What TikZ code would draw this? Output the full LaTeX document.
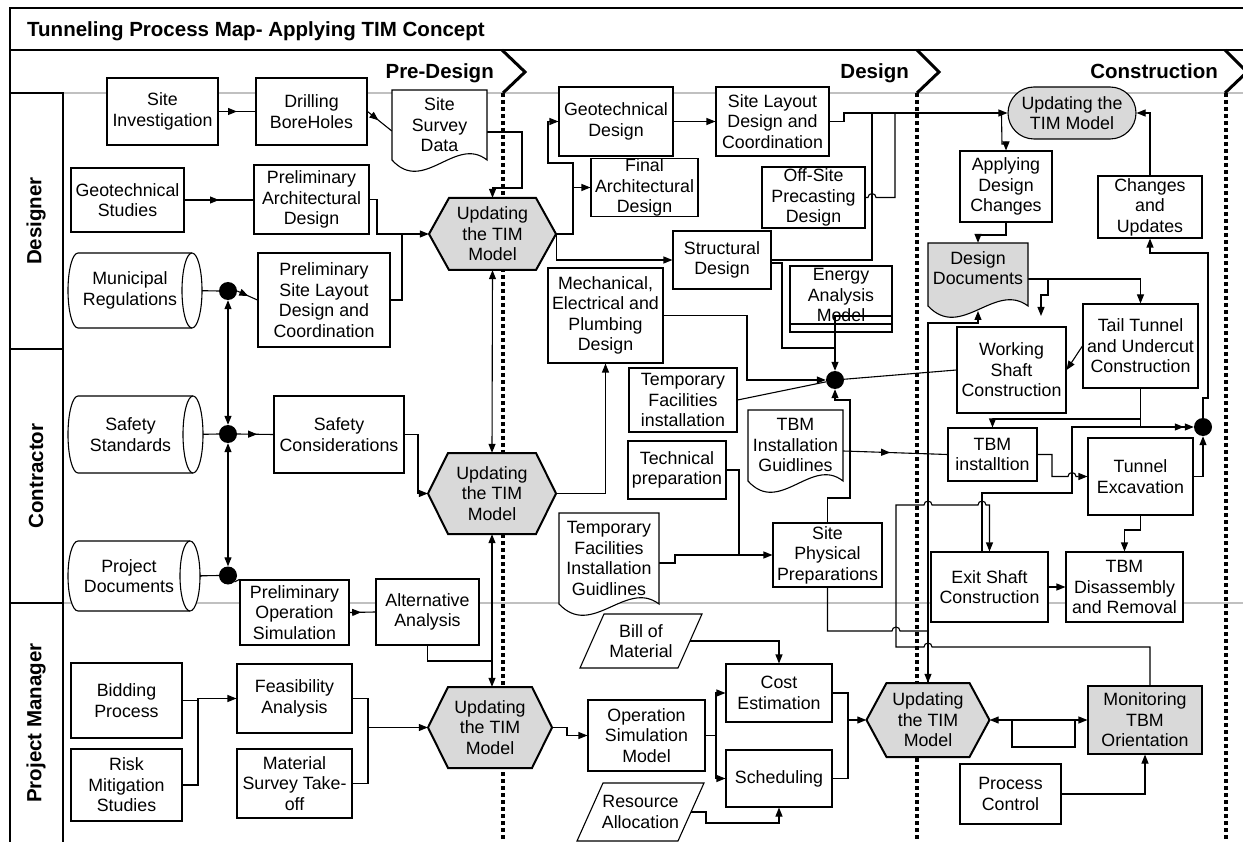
\documentclass[tikz,border=0pt]{standalone}
\usepackage{fontspec}
\setmainfont{Liberation Sans}
\usetikzlibrary{arrows.meta,decorations.markings}
\pgfdeclarelayer{bg}\pgfdeclarelayer{conn}\pgfsetlayers{bg,conn,main}
\definecolor{hexgray}{HTML}{D9D9D9}
\definecolor{lanegray}{HTML}{C0C0C0}
\tikzset{
 txt/.style={inner sep=0pt, align=center, font=\fontsize{17.8}{20.5}\selectfont},
 bx/.style={txt, draw, fill=white, line width=1.1pt},
 shp/.style={draw, fill=white, line width=1.1pt},
 hexs/.style={draw, fill=hexgray, line width=2pt, line join=miter},
 con/.style={line width=1.1pt},
 arr/.style={con, -{Triangle[length=9pt,width=7pt]}},
 darr/.style={con, {Triangle[length=9pt,width=7pt]}-{Triangle[length=9pt,width=7pt]}},
 marr/.style={con, postaction={decorate}, decoration={markings, mark=at position #1 with {\arrow{Triangle[length=9pt,width=7pt]}}}},
 dot/.style={circle, fill=black, inner sep=0pt, minimum size=18pt},
 hd/.style={font=\fontsize{20.5}{24}\selectfont\bfseries, inner sep=0pt},
 phdot/.style={line width=3.4pt, dash pattern=on 4pt off 3pt},
 chev/.style={line width=3pt, line join=miter},
}
\newcommand\mkBox[7][]{%
 \pgfmathsetmacro\bxw{#5-#3}\pgfmathsetmacro\bxh{#6-#4}%
 \pgfmathsetmacro\bxx{(#3+#5)/2}\pgfmathsetmacro\bxy{(#4+#6)/2}%
 \node[bx,minimum width=\bxw pt,minimum height=\bxh pt,#1] (#2) at (\bxx,\bxy) {#7};}
\newcommand\mkDoc[8][]{%
 \pgfmathsetmacro\dca{#3+0.33*(#5-#3)}\pgfmathsetmacro\dcb{#3+0.67*(#5-#3)}%
 \pgfmathsetmacro\dcu{#7-25}\pgfmathsetmacro\dcd{#7+35}%
 \draw[shp,#1] (#3,#4) -- (#5,#4) -- (#5,#7) .. controls (\dcb,\dcu) and (\dca,\dcd) .. (#3,#7) -- cycle;
 \pgfmathsetmacro\bxw{#5-#3}\pgfmathsetmacro\bxh{#6-#4}%
 \pgfmathsetmacro\bxx{(#3+#5)/2}\pgfmathsetmacro\bxy{(#4+#6)/2}%
 \node[txt,minimum width=\bxw pt,minimum height=\bxh pt] (#2) at (\bxx,\bxy) {#8};}
\newcommand\mkSto[6]{%
 \pgfmathsetmacro\sra{#2+10}\pgfmathsetmacro\srb{#4-10}\pgfmathsetmacro\sry{(#5-#3)/2}\pgfmathsetmacro\srm{(#3+#5)/2}%
 \draw[shp] (\sra,#3) -- (\srb,#3) arc[start angle=90,end angle=-90,x radius=10pt,y radius=\sry pt] -- (\sra,#5) arc[start angle=270,end angle=90,x radius=10pt,y radius=\sry pt] -- cycle;
 \draw[shp] (\srb,#3) arc[start angle=90,end angle=270,x radius=10pt,y radius=\sry pt];
 \pgfmathsetmacro\bxw{\srb-#2}\pgfmathsetmacro\bxh{#5-#3}\pgfmathsetmacro\bxx{(#2+\srb)/2}%
 \node[txt,minimum width=\bxw pt,minimum height=\bxh pt] (#1) at (\bxx,\srm) {#6};}
\newcommand\mkPar[7]{%
 \pgfmathsetmacro\pgA{#2+#6}\pgfmathsetmacro\pgB{#4-#6}%
 \draw[shp] (\pgA,#3) -- (#4,#3) -- (\pgB,#5) -- (#2,#5) -- cycle;
 \pgfmathsetmacro\bxw{#4-#2}\pgfmathsetmacro\bxh{#5-#3}%
 \pgfmathsetmacro\bxx{(#2+#4)/2}\pgfmathsetmacro\bxy{(#3+#5)/2}%
 \node[txt,minimum width=\bxw pt,minimum height=\bxh pt] (#1) at (\bxx,\bxy) {#7};}
\newcommand\mkHex[6]{%
 \pgfmathsetmacro\hxl{#2-#4/2}\pgfmathsetmacro\hxr{#2+#4/2}%
 \pgfmathsetmacro\hxt{#3-#5/2}\pgfmathsetmacro\hxb{#3+#5/2}%
 \pgfmathsetmacro\hxa{\hxl+20}\pgfmathsetmacro\hxc{\hxr-20}%
 \draw[hexs] (\hxl,#3) -- (\hxa,\hxt) -- (\hxc,\hxt) -- (\hxr,#3) -- (\hxc,\hxb) -- (\hxa,\hxb) -- cycle;
 \node[txt,minimum width=#4 pt,minimum height=#5 pt] (#1) at (#2,#3) {#6};}
\begin{document}
\begin{tikzpicture}[x=1pt,y=-1pt]
\useasboundingbox (0,0) rectangle (1243,842);
\begin{pgfonlayer}{bg}
 \draw[line width=1.3pt] (10,842) -- (10,8) -- (1250,8);
 \draw[line width=1.3pt] (10,50) -- (1250,50);
 \draw[lanegray, line width=1.5pt] (63,93) -- (1250,93);
 \draw[lanegray, line width=1.5pt] (63,603) -- (1250,603);
 \draw[line width=1.3pt] (10,93) -- (63,93) -- (63,842);
 \draw[line width=1.3pt] (10,349) -- (63,349);
 \draw[line width=1.3pt] (10,603) -- (63,603);
 \draw[phdot] (503,93) -- (503,842);
 \draw[phdot] (917,93) -- (917,842);
 \draw[phdot] (1226,93) -- (1226,842);
 \draw[chev] (502,50) -- (525,72) -- (503,93);
 \draw[chev] (917,50) -- (939,72) -- (917,93);
 \draw[chev] (1225,50) -- (1247,72) -- (1225,93);
\end{pgfonlayer}
% headings
\node[hd, anchor=base west] (title) at (27,37) {Tunneling Process Map- Applying TIM Concept};
\node[hd, anchor=base east] (ph1) at (494,79) {Pre-Design};
\node[hd, anchor=base east] (ph2) at (909,79) {Design};
\node[hd, anchor=base east] (ph3) at (1218,79) {Construction};
\node[hd, rotate=90] (ln1) at (36,221) {Designer};
\node[hd, rotate=90] (ln2) at (36,476) {Contractor};
\node[hd, rotate=90] (ln3) at (36,723) {Project Manager};
% pre-design
\mkBox{si}{107}{78}{218}{145}{Site\\Investigation}
\mkBox{db}{256}{78}{367}{145}{Drilling\\BoreHoles}
\mkDoc{ssd}{392}{90}{487}{160}{160}{Site\\Survey\\Data}
\mkBox{gs}{71}{168}{184}{232}{Geotechnical\\Studies}
\mkBox{pad}{254}{165}{369}{234}{Preliminary\\Architectural\\Design}
\mkSto{mun}{68}{253}{202}{328}{Municipal\\Regulations}
\mkBox{psl}{258}{253}{390}{347}{Preliminary\\Site Layout\\Design and\\Coordination}
\mkSto{saf}{68}{396}{203}{473}{Safety\\Standards}
\mkBox{sc}{274}{396}{404}{473}{Safety\\Considerations}
\mkSto{prj}{68}{541}{200}{611}{Project\\Documents}
\mkBox{pos}{240}{580}{349}{645}{Preliminary\\Operation\\Simulation}
\mkBox{aa}{376}{579}{479}{645}{Alternative\\Analysis}
\mkBox{bp}{71}{663}{182}{738}{Bidding\\Process}
\mkBox{rms}{71}{749}{182}{821}{Risk\\Mitigation\\Studies}
\mkBox{fa}{237}{664}{352}{733}{Feasibility\\Analysis}
\mkBox{mst}{237}{749}{352}{818}{Material\\Survey Take-\\off}
\mkHex{h1}{492.5}{234}{127}{72}{Updating\\the TIM\\Model}
\mkHex{h2}{492}{493.5}{128}{81}{Updating\\the TIM\\Model}
\mkHex{h3}{490}{727.5}{124}{81}{Updating\\the TIM\\Model}
\mkHex{h4}{928}{720}{123}{74}{Updating\\the TIM\\Model}
% design
\mkBox{gd}{559}{87}{673}{156}{Geotechnical\\Design}
\mkBox{sld}{716}{87}{829}{156}{Site Layout\\Design and\\Coordination}
\mkBox{fad}{591}{160}{698}{215}{Final\\Architectural\\Design}
\mkBox{osp}{762}{167}{865}{228}{Off-Site\\Precasting\\Design}
\mkBox{sd}{673}{231}{771}{289}{Structural\\Design}
\mkBox{mep}{548}{268}{663}{363}{Mechanical,\\Electrical and\\Plumbing\\Design}
\mkBox{ea}{790}{266}{892}{324}{Energy\\Analysis\\Model}
\mkBox{tfi}{629}{368}{737}{432}{Temporary\\Facilities\\installation}
\mkBox{tp}{628}{441}{726}{499}{Technical\\preparation}
\mkDoc{tbg}{748}{410}{843}{480}{481}{TBM\\Installation\\Guidlines}
\mkDoc{tfg}{559}{513}{659}{604}{604}{Temporary\\Facilities\\Installation\\Guidlines}
\mkBox{spp}{773}{523}{882}{587}{Site\\Physical\\Preparations}
\mkPar{bom}{580}{614}{702}{668}{24}{Bill of\\Material}
\mkPar{ra}{577}{783}{704}{841}{26}{Resource\\Allocation}
\mkBox{osm}{588}{700}{705}{771}{Operation\\Simulation\\Model}
\mkBox{ce}{726}{664}{832}{722}{Cost\\Estimation}
\mkBox{sch}{726}{750}{832}{807}{Scheduling}
% construction
\node[bx, fill=hexgray, rounded corners=26pt, minimum width=128pt, minimum height=52pt] (st) at (1072,113) {Updating the\\TIM Model};
\mkBox{ads}{960}{151}{1052}{222}{Applying\\Design\\Changes}
\mkBox{cu}{1098}{176}{1202}{238}{Changes\\and\\Updates}
\mkDoc[fill=hexgray]{dd}{928}{243}{1028}{293}{306}{Design\\Documents}
\mkBox{wsc}{957}{327}{1066}{413}{Working\\Shaft\\Construction}
\mkBox{ttu}{1083}{304}{1198}{388}{Tail Tunnel\\and Undercut\\Construction}
\mkBox{tbi}{948}{428}{1037}{481}{TBM\\installtion}
\mkBox{te}{1088}{438}{1193}{515}{Tunnel\\Excavation}
\mkBox{esc}{931}{552}{1048}{622}{Exit Shaft\\Construction}
\mkBox{tbd}{1066}{552}{1183}{622}{TBM\\Disassembly\\and Removal}
\mkBox[fill=hexgray]{mon}{1088}{686}{1202}{754}{Monitoring\\TBM\\Orientation}
\mkBox{pc}{960}{764}{1061}{824}{Process\\Control}
% junctions
\node[dot] (d1) at (228,291) {};
\node[dot] (d2) at (228,434) {};
\node[dot] (d3) at (228,575.5) {};
\node[dot] (d4) at (1203,427) {};
\node[dot] (d5) at (835,380) {};
\coordinate (j3) at (368,727.5);
\coordinate (jfa) at (573,187.5);
\coordinate (jos) at (716,735.5);
\coordinate (jce) at (848,720);
\coordinate (jdd) at (1048,279);
\coordinate (wsct) at (1041,316);
\coordinate (ddb) at (978,311);
% energy extra lines
\draw[con] (892,316) -- (835,316) -- (835,348);
\draw[con] (790,324) -- (790,332) -- (892,332) -- (892,324);
\begin{pgfonlayer}{conn}
\draw[marr=0.5] (si.east) -- (db.west);
\draw[marr=0.45] (db.east) -- ([yshift=-6pt]ssd.west);
\draw[marr=0.5] (gs.east) -- (gs.east -| pad.west);
\draw[arr] (pad.east) -- (377,199.5) -- (377,234) -- (h1.west);
\draw[con] (psl.east) -- (402,300) -- (402,234);
\draw[arr] ([yshift=-7pt]ssd.east) -- (522,132) -- (522,188) -- (492.5,188) -- (h1.north);
\draw[marr=0.45] (mun.east) -- (d1.west);
\draw[marr=0.55] (d1.east) -- (psl.west);
\draw[marr=0.45] (saf.east) -- (d2.west);
\draw[marr=0.55] (d2.east) -- (sc.west);
\draw[marr=0.45] (prj.east) -- (d3.west);
\draw[con] (d3.south east) -- (pos.north west);
\draw[darr] (d1.south) -- (d2.north);
\draw[darr] (d2.south) -- (d3.north);
\draw[arr] (sc.east) -- (418,434.5) -- (418,493.5) -- (h2.west);
\draw[darr] (h1.south) -- (h2.north);
\draw[darr] (h2.south) -- (h2.south |- h3.north);
\draw[marr=0.45] (pos.east) -- (aa.west);
\draw[con] (aa.south) |- (492,661);
\draw[arr] (bp.east) -- (198,700.5) -- (198,698.5) -- (fa.west);
\draw[con] (rms.east) -- (198,785) -- (198,700.5);
\draw[con] (fa.east) -- (368,698.5) -- (368,783.5) -- (mst.east);
\draw[arr] (j3) -- (h3.west);
% design
\draw[arr] (h1.east) -- (573,234) -- (573,163) -- (548,163) -- (548,121.5) -- (gd.west);
\draw[arr] (jfa) -- (fad.west);
\draw[arr] (h1.east) |- (sd.west);
\draw[arr] (gd.east) -- (sld.west);
\draw[arr] (sld.east) -- (844,121.5) -- (844,113) -- (st.west);
\draw[con] (osp.east) -- (868,197.5) arc[start angle=180,end angle=0,radius=4pt] -- (895,197.5) -- (895,113);
\draw[con] (sd.east) -- (872,260) -- (872,113);
\draw[arr] ([yshift=-3pt]sd.east) -- (782,263) -- (782,348) -- (835,348) -- (d5.north);
\draw[arr] (h2.east) -| (mep.south);
\draw[arr] (mep.east) -- (747,315.5) -- (747,380) -- (d5.west);
\draw[con] (tfi.east) -- (d5);
\draw[arr] (spp.north) -- (827.5,498) -- (850,498) -- (850,400) -- (835,400) -- (d5.south);
\draw[con] (wsc.west) -- (d5);
\draw[marr=0.45] ([yshift=-6pt]tbg.east) -- (tbi.west);
\draw[arr] (tp.east) -- (739,470) -- (739,555) -- (spp.west);
\draw[con] ([yshift=-4.5pt]tfg.east) -- (675,563) -- (675,555) -- (739,555);
\draw[arr] (h3.east) -- (567,727.5) -- (567,735.5) -- (osm.west);
\draw[arr] (osm.east) -- (716,735.5) -- (716,693) -- (ce.west);
\draw[arr] (jos) -- (716,778.5) -- (sch.west);
\draw[arr] ([xshift=-12pt]bom.east) -- (779,641) -- (ce.north);
\draw[arr] ([xshift=-13pt]ra.east) -- (706,812) -- (706,823) -- (779,823) -- (sch.south);
\draw[con] (ce.east) -- (848,693) -- (848,778.5) -- (sch.east);
\draw[arr] (jce) -- (h4.west);
% construction
\draw[arr] (st.west) ++(-6,0) -- (1002,144) -- (1006,144) -- (ads.north);
\draw[arr] (ads.south) -- (1006,235) -- (978,235) -- (dd.north);
\draw[arr] ([yshift=-11pt]dd.east) -- (1140.5,279) -- (ttu.north);
\draw[arr] (jdd) -- (1048,295) -- (1041,295) -- (wsct);
\draw[arr] (ttu.west) -- (wsc.east);
\draw[arr] (ttu.south) -- (1140.5,419) -| (tbi.north);
\draw[arr, shorten >=10pt] (ttu.south) -- (1140.5,427) -- (d4.west);
\draw[arr] (tbi.east) -- (1052,454.5) -- (1052,476.5) -- (1068,476.5) arc[start angle=180,end angle=0,radius=4pt] -- (te.west);
\draw[arr] (te.east) -- (1203,476.5) -- (d4.south);
\draw[arr] (te.south) -- (1140.5,530) -- (1124.5,530) -- (tbd.north);
\draw[arr] (esc.east) -- (tbd.west);
\draw[arr] ([xshift=-7.5pt]esc.north) -- (982,493) -- (1072,493) -- (1072,427) -- (d4.west);
\draw[arr] (d4.north) -- (1203,398) -- (1208,398) -- (1208,253) -- (1150,253) -- (cu.south);
\draw[arr] (cu.north) -- (1150,113) -- (st.east);
\draw[arr] (h4.north) -- (928,323) -- (978,323) -- (ddb);
\draw[arr] (spp.south) -- (827.5,631) -- (892,631) arc[start angle=180,end angle=0,radius=4pt] -- (928,631) -- (h4.north);
\draw[arr] ([xshift=5pt]mon.north) -- (1150,647) -- (932,647) arc[start angle=0,end angle=180,radius=4pt] -- (896,647) -- (896,505) -- (924,505) arc[start angle=180,end angle=0,radius=4pt] -- (978,505) arc[start angle=180,end angle=0,radius=4pt] -- (989.5,505) -- (esc.north);
\draw[darr] (h4.east) -- (mon.west);
\draw[con] (1012,720) -- (1012,747) -- (1075,747) -- (1075,720);
\draw[arr] (pc.east) -| (mon.south);
\end{pgfonlayer}
\end{tikzpicture}
\end{document}
